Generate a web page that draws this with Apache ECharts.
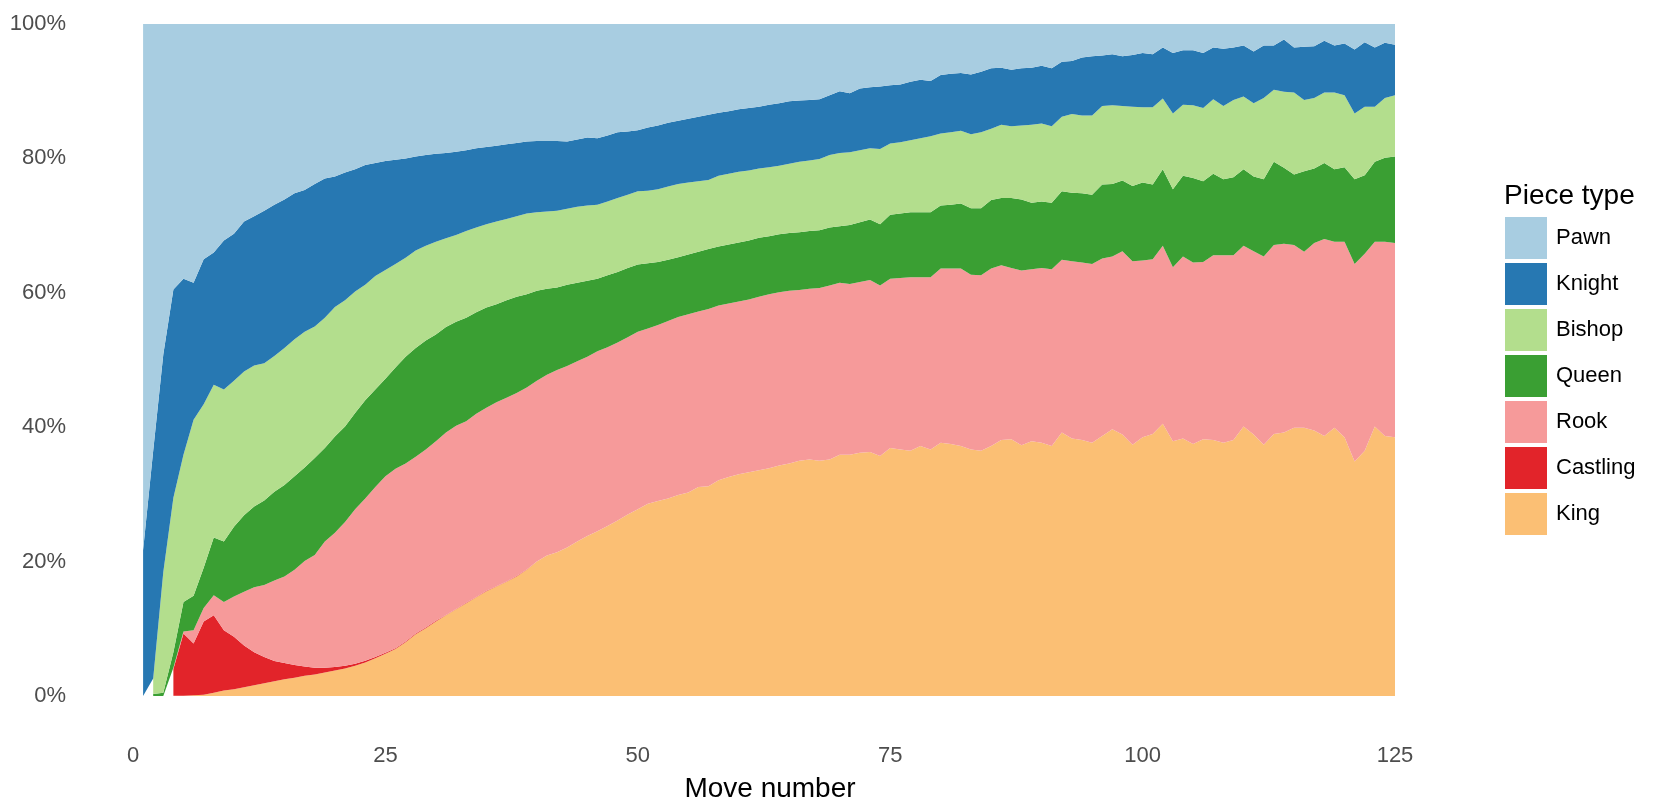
<!DOCTYPE html>
<html>
<head>
<meta charset="utf-8">
<script src="https://cdn.jsdelivr.net/npm/echarts@6/dist/echarts.min.js"></script>
<style>
html,body{margin:0;padding:0;background:#fff;}
#chart{width:1658px;height:808px;}
</style>
</head>
<body>
<div id="chart"></div>
<script>
// Shares (%) of moves by piece type, for move numbers 1..125
var lastMove = 125;
var xTickStep = 25;
var yTicks = [0, 20, 40, 60, 80, 100];
var pieceNames = ['King', 'Castling', 'Rook', 'Queen', 'Bishop', 'Knight', 'Pawn'];
var legendOrder = ['Pawn', 'Knight', 'Bishop', 'Queen', 'Rook', 'Castling', 'King'];

var king = [null,null,null,0.05,0.05,0.1,0.2,0.5,0.8,1.0,
 1.3,1.6,1.9,2.2,2.5,2.7,3.0,3.2,3.5,3.8,
 4.1,4.5,5.0,5.6,6.3,7.0,8.0,9.2,10.1,11.1,
 12.0,12.9,13.8,14.7,15.6,16.3,17.0,17.8,18.8,20.0,
 20.9,21.4,22.1,23.0,23.8,24.5,25.3,26.1,27.0,27.8,
 28.6,29.0,29.4,29.9,30.3,31.1,31.2,32.1,32.6,33.0,
 33.3,33.6,33.9,34.3,34.6,35.0,35.2,35.0,35.2,35.9,
 35.9,36.2,36.3,35.7,36.9,36.7,36.5,37.2,36.7,37.7,
 37.5,37.2,36.7,36.5,37.2,38.1,38.2,37.3,37.9,37.7,
 37.2,39.2,38.3,38.1,37.7,38.7,39.7,38.9,37.4,38.5,
 39.0,40.5,37.9,38.3,37.5,38.2,38.1,37.7,38.1,40.1,
 38.9,37.4,39.0,39.2,39.9,39.9,39.5,38.7,39.9,38.5,
 34.9,36.5,40.1,38.7,38.5];

var castling = [null,null,null,3.95,9.25,7.7,10.9,11.5,9.0,7.8,
 6.2,4.9,3.9,3.0,2.4,1.9,1.4,1.0,0.7,0.5,
 0.4,0.3,0.25,0.2,0.15,0.12,0.1,0.1,0.08,0.08,
 0.07,0.06,0.06,0.05,0.05,0.05,0.04,0.04,0.04,0.03,
 0,0,0,0,0,0,0,0,0,0,
 0,0,0,0,0,0,0,0,0,0,
 0,0,0,0,0,0,0,0,0,0,
 0,0,0,0,0,0,0,0,0,0,
 0,0,0,0,0,0,0,0,0,0,
 0,0,0,0,0,0,0,0,0,0,
 0,0,0,0,0,0,0,0,0,0,
 0,0,0,0,0,0,0,0,0,0,
 0,0,0,0,0];

var rook = [null,null,null,0.2,0.3,2.0,2.0,3.0,4.2,6.0,
 8.0,9.7,10.7,12.0,12.9,14.2,15.7,16.8,18.8,20.0,
 21.4,23.0,24.15,25.3,26.25,26.68,26.5,26.3,26.52,26.72,
 27.13,27.24,27.04,27.25,27.25,27.35,27.36,27.26,27.06,26.87,
 26.9,27.1,27.0,26.8,26.7,26.8,26.6,26.5,26.4,26.4,
 26.1,26.2,26.4,26.5,26.5,26.1,26.4,26.0,25.8,25.7,
 25.7,25.8,25.9,25.8,25.7,25.4,25.4,25.7,25.9,25.6,
 25.4,25.4,25.6,25.4,25.2,25.5,25.8,25.1,25.6,25.9,
 26.1,26.4,26.0,26.1,26.4,26.0,25.5,26.0,25.6,26.0,
 26.3,25.7,26.4,26.4,26.6,26.4,25.7,27.3,27.3,26.3,
 26.0,26.5,25.9,27.1,27.0,26.4,27.5,27.9,27.5,26.9,
 27.3,28.0,28.1,28.1,27.2,26.2,27.9,29.3,27.7,29.1,
 29.4,29.3,27.5,28.9,28.9];

var queen = [null,0.3,0.5,2.3,4.4,5.1,6.0,8.6,9.0,10.4,
 11.4,12.0,12.6,13.2,13.6,13.9,13.9,14.4,13.9,14.3,
 14.2,14.3,14.6,14.5,14.5,15.1,15.9,16.2,16.2,15.9,
 15.7,15.5,15.4,15.1,14.9,14.6,14.5,14.3,13.9,13.4,
 12.8,12.3,12.1,11.7,11.3,10.8,10.7,10.5,10.3,10.0,
 9.7,9.4,9.1,8.9,8.9,8.9,8.9,8.8,8.8,8.8,
 8.8,8.8,8.6,8.6,8.6,8.6,8.6,8.6,8.6,8.4,
 8.8,8.9,9.0,9.1,9.5,9.6,9.7,9.7,9.7,9.4,
 9.5,9.7,9.9,10.0,10.2,10.0,10.4,10.6,9.9,9.9,
 9.9,10.2,10.2,10.3,10.3,11.0,10.8,10.5,11.2,11.6,
 11.1,11.4,11.6,12.0,12.6,12.0,12.1,11.3,11.6,11.4,
 11.1,11.5,12.4,11.3,10.5,12.0,11.1,11.3,10.8,11.1,
 12.6,11.7,11.9,12.5,12.9];

var bishop = [null,2.3,17.9,23.0,21.9,26.2,24.3,22.7,22.6,21.7,
 21.4,21.0,20.4,20.2,20.4,20.4,20.2,19.6,19.4,19.3,
 18.8,18.1,17.2,16.9,16.2,15.4,14.7,14.5,14.1,13.8,
 13.2,12.9,12.9,12.6,12.4,12.3,12.1,12.0,12.0,11.7,
 11.5,11.4,11.3,11.3,11.2,11.0,11.0,11.0,10.9,10.9,
 10.8,10.8,10.9,10.9,10.7,10.5,10.3,10.5,10.5,10.5,
 10.4,10.3,10.3,10.2,10.3,10.5,10.5,10.6,10.8,10.9,
 10.8,10.7,10.6,11.2,10.6,10.6,10.7,11.0,11.3,10.7,
 10.8,10.8,11.0,11.3,10.6,10.9,10.7,11.0,11.6,11.6,
 11.4,11.1,11.7,11.6,11.8,11.7,11.7,11.1,11.8,11.2,
 11.5,10.5,11.3,10.6,10.8,10.9,11.1,10.9,11.5,10.8,
 10.9,12.1,10.7,11.3,12.2,10.6,10.5,10.5,11.4,10.7,
 9.8,10.2,8.2,8.9,9.1];

var knight = [21.7,33.9,32.4,31.0,26.2,20.4,21.6,19.7,22.2,21.9,
 22.3,22.2,22.7,22.5,22.1,21.7,21.1,21.2,20.7,19.4,
 19.0,18.2,17.8,16.8,16.2,15.5,14.8,14.0,13.5,13.1,
 12.7,12.4,12.0,11.8,11.5,11.3,11.1,10.9,10.7,10.6,
 10.5,10.4,10.0,10.0,10.1,9.9,9.8,9.8,9.4,9.1,
 9.4,9.5,9.5,9.4,9.5,9.6,9.7,9.4,9.3,9.3,
 9.3,9.2,9.3,9.3,9.3,9.1,9.0,8.9,8.9,9.2,
 8.8,9.2,9.1,9.3,8.7,8.6,8.7,8.7,8.2,8.7,
 8.7,8.6,8.9,9.0,9.0,8.5,8.4,8.5,8.5,8.6,
 8.6,8.2,7.9,8.6,8.8,7.5,7.6,7.4,7.7,8.1,
 7.9,7.6,9.0,8.1,8.2,8.2,7.7,8.5,7.8,7.6,
 7.7,7.8,6.6,7.8,6.7,7.9,7.7,7.7,7.0,7.7,
 9.5,9.6,8.8,8.2,7.5];

var pawn = [78.3,63.5,49.2,39.5,37.9,38.5,35.0,34.0,32.2,31.2,
 29.4,28.6,27.8,26.9,26.1,25.2,24.7,23.8,23.0,22.7,
 22.1,21.6,21.0,20.7,20.4,20.2,20.0,19.7,19.5,19.3,
 19.2,19.0,18.8,18.5,18.3,18.1,17.9,17.7,17.5,17.4,
 17.4,17.4,17.5,17.2,16.9,17.0,16.6,16.1,16.0,15.8,
 15.4,15.1,14.7,14.4,14.1,13.8,13.5,13.2,13.0,12.7,
 12.5,12.3,12.0,11.8,11.5,11.4,11.3,11.2,10.6,10.0,
 10.3,9.6,9.4,9.3,9.1,9.0,8.6,8.3,8.5,7.6,
 7.4,7.3,7.5,7.1,6.6,6.5,6.8,6.6,6.5,6.2,
 6.6,5.6,5.5,5.0,4.8,4.7,4.5,4.8,4.6,4.3,
 4.5,3.5,4.3,3.9,3.9,4.3,3.5,3.7,3.5,3.2,
 4.1,3.2,3.2,2.3,3.5,3.4,3.3,2.5,3.2,2.9,
 3.8,2.7,3.5,2.8,3.1];

var seriesValues = [king, castling, rook, queen, bishop, knight, pawn];
var colors = {
  King: '#FBBF74', Castling: '#E2242A', Rook: '#F69A9A', Queen: '#3A9F33',
  Bishop: '#B3DE8D', Knight: '#2778B2', Pawn: '#A8CDE1'
};

// category axis: move 0 .. lastMove (move 0 has no data)
var moveCategories = [];
for (var m = 0; m <= lastMove; m++) moveCategories.push(String(m));

var FONT = '"Liberation Sans", Arial, Helvetica, sans-serif';

var series = pieceNames.map(function (name, si) {
  return {
    name: name,
    type: 'line',
    stack: 'total',
    symbol: 'none',
    showSymbol: false,
    smooth: false,
    connectNulls: false,
    silent: true,
    lineStyle: { width: 0, color: colors[name] },
    areaStyle: { color: colors[name], opacity: 1 },
    itemStyle: { color: colors[name] },
    data: [null].concat(seriesValues[si])
  };
});

var chart = echarts.init(document.getElementById('chart'), null, { renderer: 'canvas' });
chart.setOption({
  animation: false,
  backgroundColor: '#ffffff',
  title: {
    text: 'Piece type',
    left: 1504,
    top: 182,
    padding: 0,
    textStyle: { fontFamily: FONT, fontSize: 28, fontWeight: 'normal', color: '#000000' }
  },
  legend: {
    data: legendOrder,
    orient: 'vertical',
    left: 1505,
    top: 217,
    padding: 0,
    itemWidth: 42,
    itemHeight: 42,
    itemGap: 4,
    icon: 'rect',
    selectedMode: false,
    textStyle: { fontFamily: FONT, fontSize: 22, color: '#000000', padding: [0, 0, 0, 4] }
  },
  grid: { left: 133, right: 263, top: 24, bottom: 112, containLabel: false },
  xAxis: {
    type: 'category',
    data: moveCategories,
    boundaryGap: false,
    name: 'Move number',
    nameLocation: 'middle',
    nameGap: 79,
    nameTextStyle: { fontFamily: FONT, fontSize: 28, color: '#000000', padding: [0, 0, 0, 12] },
    axisLine: { show: false },
    axisTick: { show: false },
    splitLine: { show: false },
    axisLabel: {
      fontFamily: FONT, fontSize: 22, color: '#4D4D4D', margin: 49,
      interval: function (index) { return index % xTickStep === 0; }
    }
  },
  yAxis: {
    type: 'value',
    min: yTicks[0],
    max: yTicks[yTicks.length - 1],
    interval: yTicks[1] - yTicks[0],
    axisLine: { show: false },
    axisTick: { show: false },
    splitLine: { show: false },
    axisLabel: { fontFamily: FONT, fontSize: 22, color: '#4D4D4D', margin: 67, formatter: '{value}%' }
  },
  series: series
});
</script>
</body>
</html>
